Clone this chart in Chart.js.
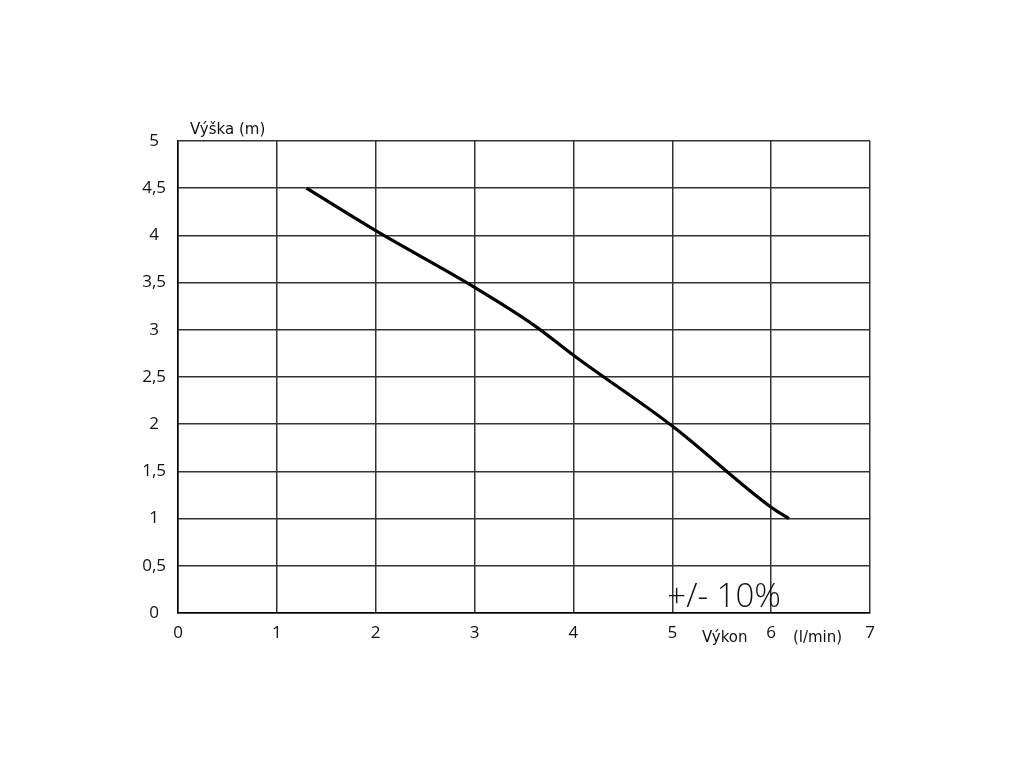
<!DOCTYPE html>
<html>
<head>
<meta charset="utf-8">
<script src="https://cdn.jsdelivr.net/npm/chart.js@4/dist/chart.umd.min.js"></script>
<style>
html,body{margin:0;padding:0;background:#fff;}
#wrap{width:1024px;height:768px;}
</style>
</head>
<body>
<div id="wrap"><canvas id="c" width="1024" height="768"></canvas></div>
<script>
// Data
const flowX = [1.3, 2.0, 3.0, 3.6, 4.0, 5.0, 6.0, 6.18];
const headY = [4.5, 4.05, 3.45, 3.05, 2.73, 1.98, 1.12, 1.0];
const xTicks = [0, 1, 2, 3, 4, 5, 6, 7];
const yTicks = [0, 0.5, 1, 1.5, 2, 2.5, 3, 3.5, 4, 4.5, 5];
const yTitle = 'Výška (m)';
const xTitle = 'Výkon';
const xUnit = '(l/min)';
const note = '+/- 10%';

const points = flowX.map((x, i) => ({x: x, y: headY[i]}));

const textPlugin = {
  id: 'texts',
  afterDraw(chart) {
    const ctx = chart.ctx;
    const xs = chart.scales.x, ys = chart.scales.y;
    ctx.save();
    ctx.fillStyle = '#111';
    ctx.textBaseline = 'middle';
    ctx.font = '15px "DejaVu Sans", sans-serif';
    ctx.textAlign = 'left';
    ctx.fillText(yTitle, xs.left + 12, ys.top - 11);
    ctx.fillText(xTitle, xs.getPixelForValue(5.3), ys.bottom + 25);
    ctx.fillText(xUnit, xs.getPixelForValue(6.22), ys.bottom + 25);
    ctx.font = '300 33px "Open Sans", sans-serif';
    ctx.textBaseline = 'alphabetic';
    ctx.fillText(note, xs.getPixelForValue(4.95), ys.bottom - 6);
    ctx.restore();
  }
};

new Chart(document.getElementById('c'), {
  type: 'scatter',
  data: {
    datasets: [{
      data: points,
      showLine: true,
      borderColor: '#000',
      borderWidth: 3.2,
      pointRadius: 0,
      cubicInterpolationMode: 'monotone',
      fill: false
    }]
  },
  options: {
    responsive: false,
    animation: false,
    layout: {padding: {left: 100, right: 154, top: 141, bottom: 115}},
    plugins: {legend: {display: false}, tooltip: {enabled: false}},
    scales: {
      x: {
        type: 'linear', min: 0, max: 7,
        afterFit(s) { s.height = 40; },
        afterBuildTicks(s) { s.ticks = xTicks.map(v => ({value: v})); },
        grid: {color: '#333', lineWidth: 1.5, drawTicks: false},
        border: {color: '#000', width: 1.5},
        ticks: {color: '#111', padding: 10, font: {family: '"Open Sans", sans-serif', size: 17}}
      },
      y: {
        type: 'linear', min: 0, max: 5,
        afterFit(s) { s.width = 78; },
        afterBuildTicks(s) { s.ticks = yTicks.map(v => ({value: v})); },
        grid: {color: '#333', lineWidth: 1.5, drawTicks: false},
        border: {color: '#000', width: 1.5},
        ticks: {
          color: '#111', padding: 12, crossAlign: 'center',
          font: {family: '"Open Sans", sans-serif', size: 17},
          callback: v => String(v).replace('.', ',')
        }
      }
    }
  },
  plugins: [textPlugin]
});
</script>
</body>
</html>
